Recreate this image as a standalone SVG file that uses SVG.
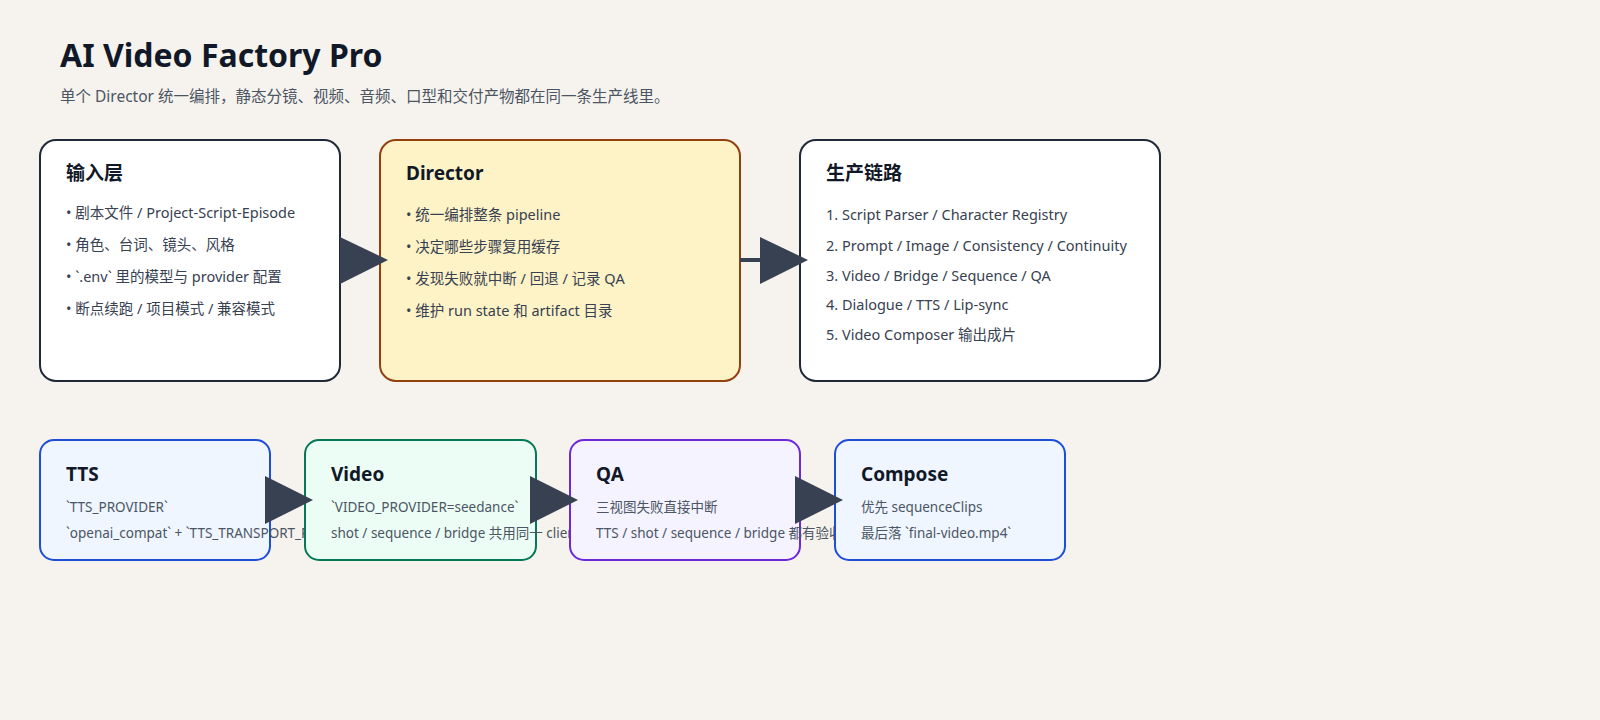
<svg xmlns="http://www.w3.org/2000/svg" width="1600" height="720" viewBox="0 0 1600 720">
<style>
text{font-family:"Noto Sans","Noto Sans CJK SC",sans-serif}
.t{font-size:32px;font-weight:700;fill:#111827}
.sub{font-size:15.5px;fill:#4b5563}
.h{font-size:19px;font-weight:700;fill:#111827}
.b{font-size:14.5px;fill:#374151}
.s{font-size:13.5px;fill:#4b5563}
.white{fill:#ffffff;stroke:#1f2937;stroke-width:2}
.arr{fill:#374151}
</style>
<defs>
<clipPath id="c1"><rect x="40" y="440" width="265" height="120"/></clipPath>
<clipPath id="c2"><rect x="305" y="440" width="265" height="120"/></clipPath>
<clipPath id="c3"><rect x="570" y="440" width="265" height="120"/></clipPath>
</defs>
<rect width="1600" height="720" fill="#f6f3ee"/>
<text class="t" x="60" y="67">AI Video Factory Pro</text>
<text class="sub" x="60" y="102">单个 Director 统一编排，静态分镜、视频、音频、口型和交付产物都在同一条生产线里。</text>
<g id="input">
<rect class="white" x="40" y="140" width="300" height="241" rx="16"/>
<text class="h" x="66" y="180">输入层</text>
<text class="b" x="66" y="218">• 剧本文件 / Project-Script-Episode</text>
<text class="b" x="66" y="250">• 角色、台词、镜头、风格</text>
<text class="b" x="66" y="282">• `.env` 里的模型与 provider 配置</text>
<text class="b" x="66" y="314">• 断点续跑 / 项目模式 / 兼容模式</text>
</g>
<g id="director">
<rect x="380" y="140" width="360" height="241" rx="16" fill="#fef3c7" stroke="#92400e" stroke-width="2"/>
<text class="h" x="406" y="180">Director</text>
<text class="b" x="406" y="220">• 统一编排整条 pipeline</text>
<text class="b" x="406" y="252">• 决定哪些步骤复用缓存</text>
<text class="b" x="406" y="284">• 发现失败就中断 / 回退 / 记录 QA</text>
<text class="b" x="406" y="316">• 维护 run state 和 artifact 目录</text>
</g>
<g id="chain">
<rect class="white" x="800" y="140" width="360" height="241" rx="16"/>
<text class="h" x="826" y="180">生产链路</text>
<text class="b" x="826" y="220">1. Script Parser / Character Registry</text>
<text class="b" x="826" y="251">2. Prompt / Image / Consistency / Continuity</text>
<text class="b" x="826" y="281">3. Video / Bridge / Sequence / QA</text>
<text class="b" x="826" y="310">4. Dialogue / TTS / Lip-sync</text>
<text class="b" x="826" y="340">5. Video Composer 输出成片</text>
</g>
<g id="tts">
<rect x="40" y="440" width="230" height="120" rx="14" fill="#eff6ff" stroke="#1d4ed8" stroke-width="2"/>
<text class="h" x="66" y="481">TTS</text>
<text class="s" x="66" y="512">`TTS_PROVIDER`</text>
<text class="s" x="66" y="538" clip-path="url(#c1)">`openai_compat` + `TTS_TRANSPORT_PROVIDER`</text>
</g>
<g id="video">
<rect x="305" y="440" width="231" height="120" rx="14" fill="#ecfdf5" stroke="#047857" stroke-width="2"/>
<text class="h" x="331" y="481">Video</text>
<text class="s" x="331" y="512">`VIDEO_PROVIDER=seedance`</text>
<text class="s" x="331" y="538" clip-path="url(#c2)">shot / sequence / bridge 共用同一 client</text>
</g>
<g id="qa">
<rect x="570" y="440" width="230" height="120" rx="14" fill="#f5f3ff" stroke="#6d28d9" stroke-width="2"/>
<text class="h" x="596" y="481">QA</text>
<text class="s" x="596" y="512">三视图失败直接中断</text>
<text class="s" x="596" y="538" clip-path="url(#c3)">TTS / shot / sequence / bridge 都有验收</text>
</g>
<g id="compose">
<rect x="835" y="440" width="230" height="120" rx="14" fill="#eff6ff" stroke="#1d4ed8" stroke-width="2"/>
<text class="h" x="861" y="481">Compose</text>
<text class="s" x="861" y="512">优先 sequenceClips</text>
<text class="s" x="861" y="538">最后落 `final-video.mp4`</text>
</g>
<g id="connectors">
<polygon class="arr" points="340,237 388,260 340,284"/>
<line x1="740" y1="260" x2="762" y2="260" stroke="#374151" stroke-width="4"/>
<polygon class="arr" points="760,237 808,260 760,284"/>
<polygon class="arr" points="265,476 313,500 265,524"/>
<polygon class="arr" points="530,476 578,500 530,524"/>
<polygon class="arr" points="795,476 843,500 795,524"/>
</g>
</svg>
